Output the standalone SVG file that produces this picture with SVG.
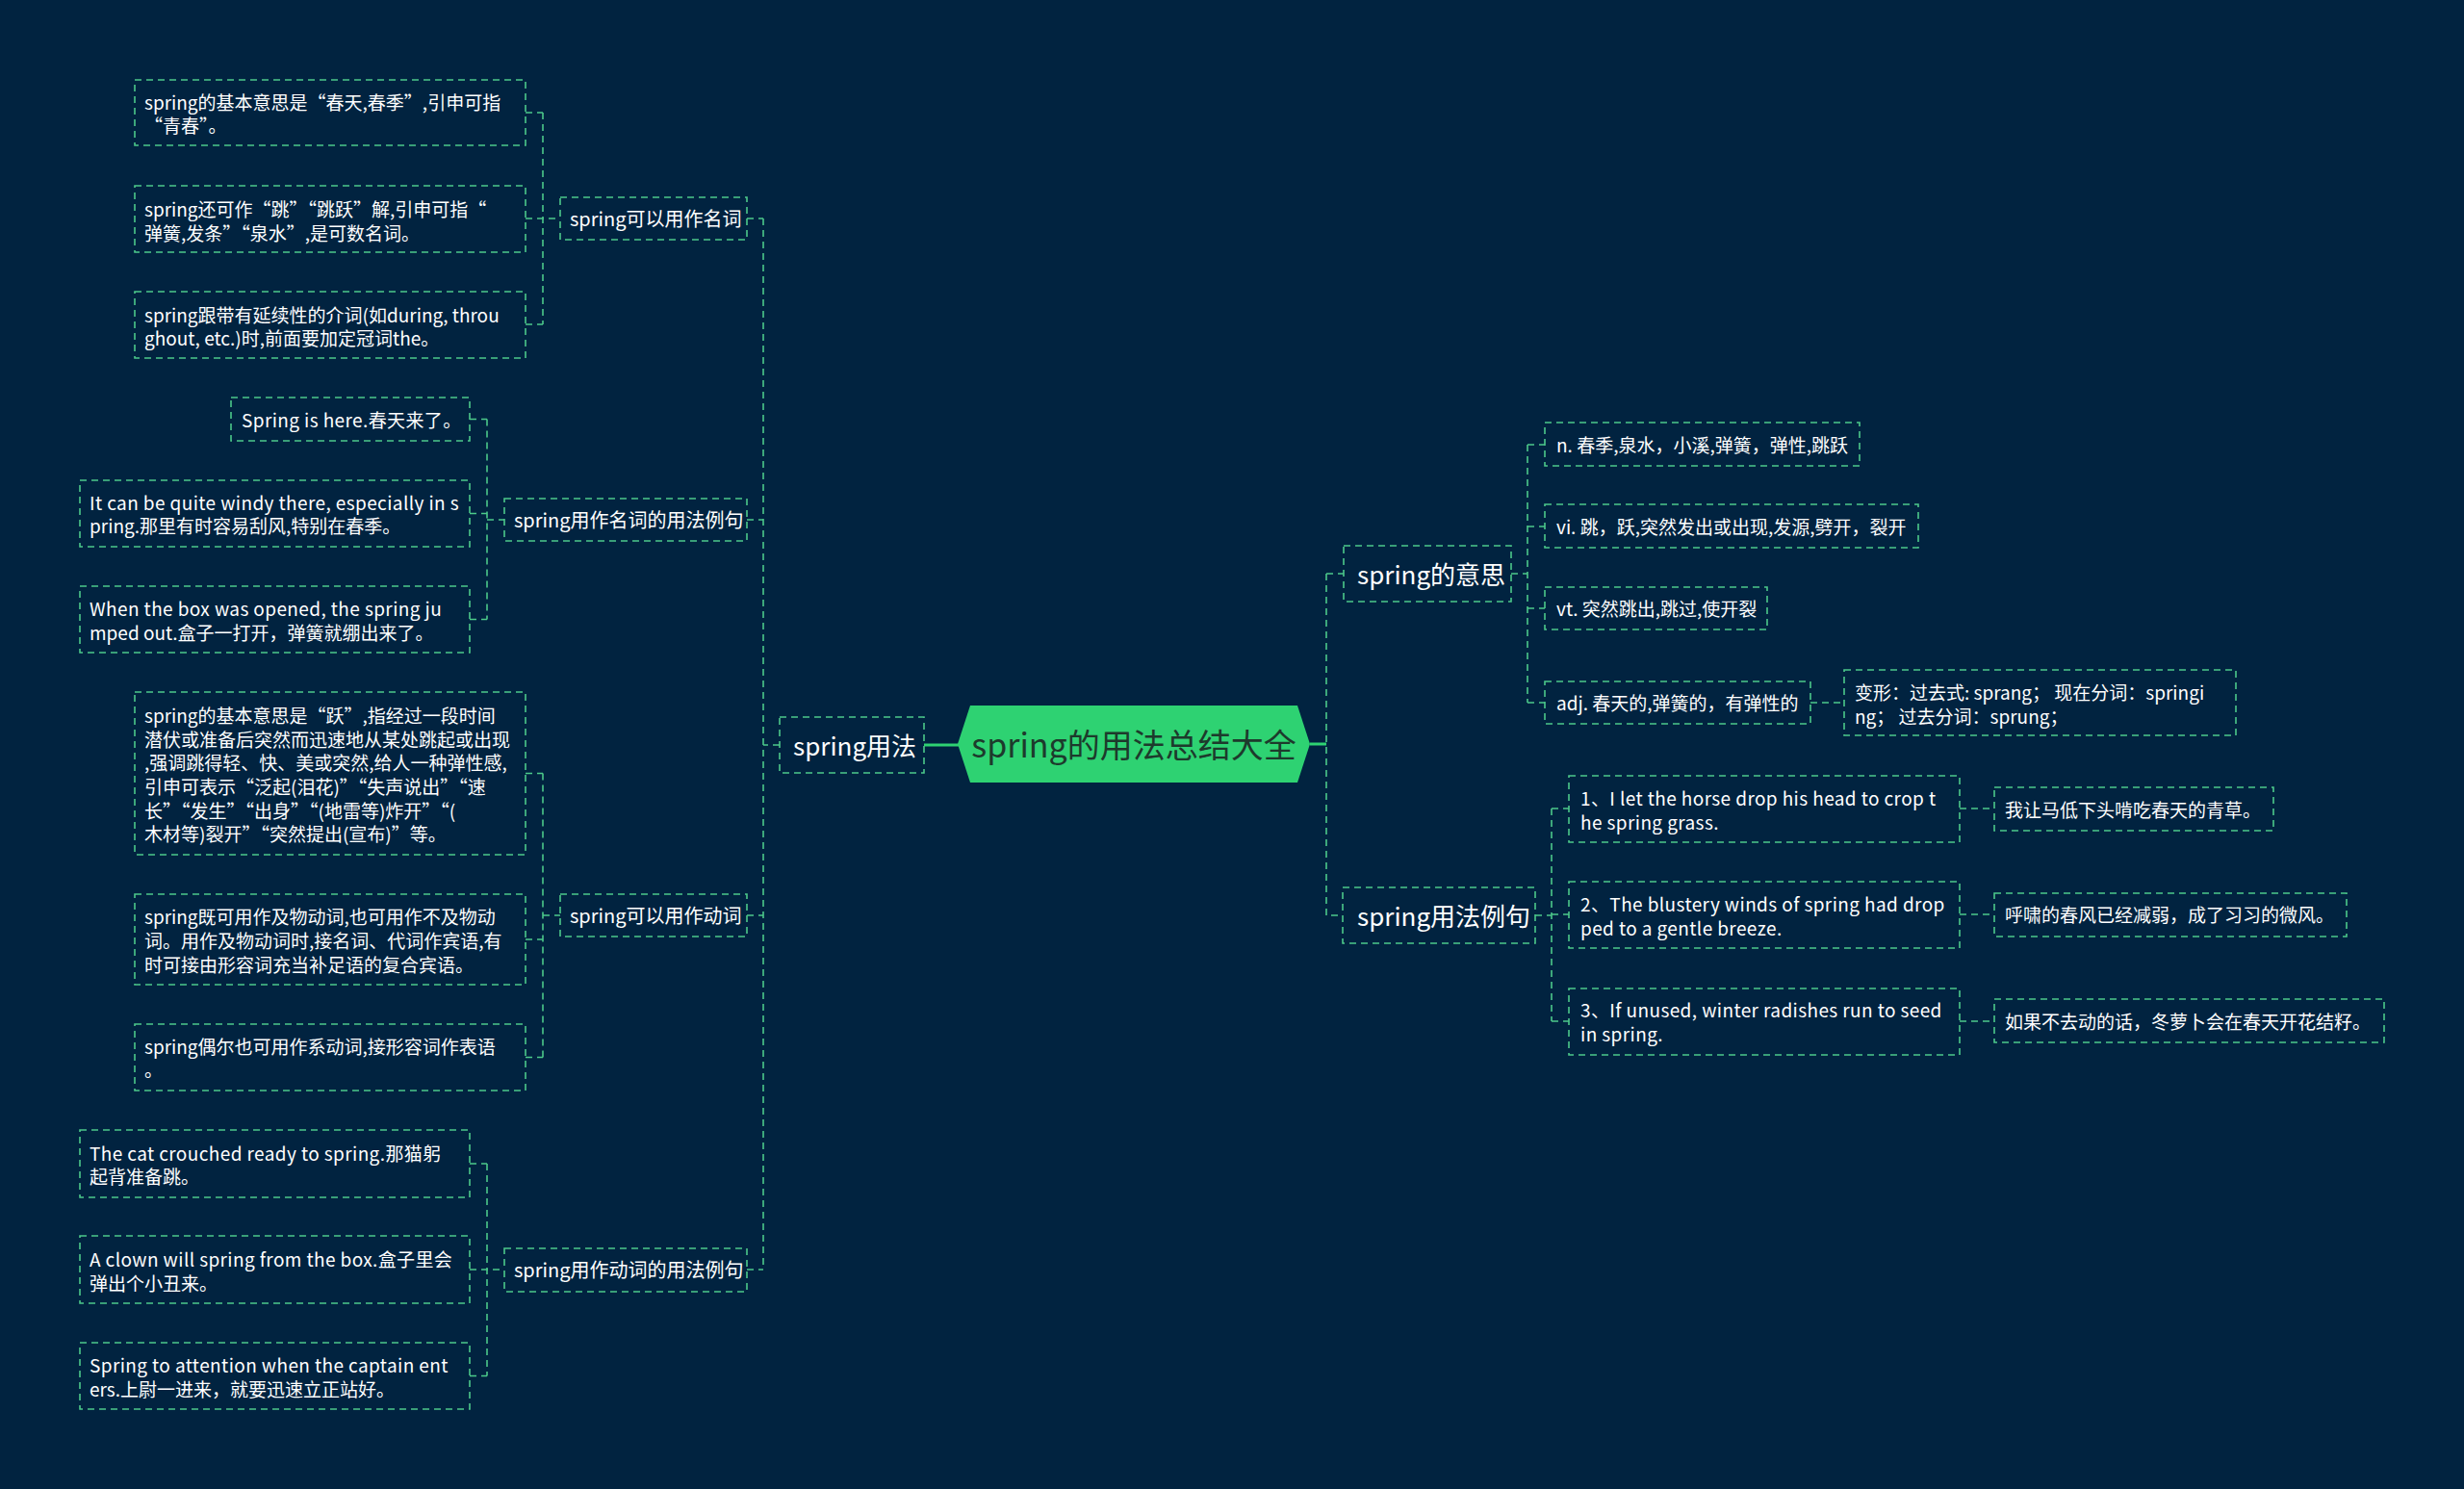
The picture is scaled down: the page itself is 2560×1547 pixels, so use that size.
<svg xmlns="http://www.w3.org/2000/svg" width="2560" height="1547" viewBox="0 0 2560 1547">
<style>
.bg{fill:#012340}
.box{fill:#012340;stroke:#4cc98a;stroke-width:1.6;stroke-dasharray:7 5}
.conn{fill:none;stroke:#4cc98a;stroke-width:1.6;stroke-dasharray:7 5}
.solid{fill:none;stroke:#2ed272;stroke-width:3}
text{font-family:"Noto Sans CJK SC","Noto Sans",sans-serif;fill:#ffffff;dominant-baseline:central}
.t{font-size:19px}
.en{letter-spacing:0.4px}
.t2{font-size:20px}
.t1{font-size:26px}
.root{font-size:34px;fill:#1d3a2c;text-anchor:middle}
</style>
<rect class="bg" x="0" y="0" width="2560" height="1547"/>

<g id="connectors">
  <path class="solid" d="M960 774H996M1361 773H1378"/>
  <path class="conn" d="M793 227V1319M810 774H793M776 227H793M776 540H793M776 951H793M776 1319H793"/>
  <path class="conn" d="M564 117V337M546 117H564M546 227H582M546 337H564"/>
  <path class="conn" d="M506 435.5V643.5M488 435.5H506M488 533.5H506M506 540H524M488 643.5H506"/>
  <path class="conn" d="M564 803.5V1098.5M546 803.5H564M546 976H564M564 951H582M546 1098.5H564"/>
  <path class="conn" d="M506 1209V1429.5M488 1209H506M488 1319H524M488 1429.5H506"/>
  <path class="conn" d="M1378 596V951H1395M1378 596H1396"/>
  <path class="conn" d="M1587 462V730M1570 596H1587M1587 462H1605M1587 547H1605M1587 632H1605M1587 730H1605M1881 730H1916"/>
  <path class="conn" d="M1612 840V1061M1595 951H1612M1612 840H1630M1612 950H1630M1612 1061H1630M2036 840H2072M2036 950H2072M2036 1061H2072"/>
</g>

<g id="root">
  <polygon points="995,773 1008,733 1348,733 1361,773 1348,813 1008,813" fill="#2ed272"/>
  <text class="root" x="1178" y="772">spring的用法总结大全</text>
</g>

<g id="n-usage"><rect class="box" x="810" y="745" width="150" height="58"/><text class="t1" x="824" y="773">spring用法</text></g>
<g id="n-meaning"><rect class="box" x="1396" y="567" width="174" height="58"/><text class="t1" x="1410" y="595">spring的意思</text></g>
<g id="n-examples"><rect class="box" x="1395" y="922" width="200" height="58"/><text class="t1" x="1410" y="950">spring用法例句</text></g>

<g id="n1"><rect class="box" x="582" y="205" width="194" height="44"/><text class="t2" x="592" y="226">spring可以用作名词</text></g>
<g id="n2"><rect class="box" x="524" y="518" width="252" height="44"/><text class="t2" x="534" y="539">spring用作名词的用法例句</text></g>
<g id="n3"><rect class="box" x="582" y="929" width="194" height="44"/><text class="t2" x="592" y="950">spring可以用作动词</text></g>
<g id="n4"><rect class="box" x="524" y="1297" width="252" height="45"/><text class="t2" x="534" y="1318">spring用作动词的用法例句</text></g>

<g id="a1"><rect class="box" x="140" y="83" width="406" height="68"/><text class="t" x="150" y="105">spring的基本意思是“春天,春季”,引申可指</text><text class="t" x="150" y="129">“青春”。</text></g>
<g id="a2"><rect class="box" x="140" y="193" width="406" height="69"/><text class="t" x="150" y="216">spring还可作“跳”“跳跃”解,引申可指“</text><text class="t" x="150" y="241">弹簧,发条”“泉水”,是可数名词。</text></g>
<g id="a3"><rect class="box" x="140" y="303" width="406" height="69"/><text class="t" x="150" y="326">spring跟带有延续性的介词(如during, throu</text><text class="t" x="150" y="350">ghout, etc.)时,前面要加定冠词the。</text></g>

<g id="b1"><rect class="box" x="240" y="413" width="248" height="45"/><text class="t en" x="251" y="435">Spring is here.春天来了。</text></g>
<g id="b2"><rect class="box" x="83" y="499" width="405" height="69"/><text class="t en" x="93" y="521">It can be quite windy there, especially in s</text><text class="t" x="93" y="545">pring.那里有时容易刮风,特别在春季。</text></g>
<g id="b3"><rect class="box" x="83" y="609" width="405" height="69"/><text class="t en" x="93" y="631">When the box was opened, the spring ju</text><text class="t" x="93" y="656">mped out.盒子一打开，弹簧就绷出来了。</text></g>

<g id="c1"><rect class="box" x="140" y="719" width="406" height="169"/>
<text class="t" x="150" y="742">spring的基本意思是“跃”,指经过一段时间</text>
<text class="t" x="150" y="767">潜伏或准备后突然而迅速地从某处跳起或出现</text>
<text class="t" x="150" y="791">,强调跳得轻、快、美或突然,给人一种弹性感,</text>
<text class="t" x="150" y="816">引申可表示“泛起(泪花)”“失声说出”“速</text>
<text class="t" x="150" y="841">长”“发生”“出身”“(地雷等)炸开”“(</text>
<text class="t" x="150" y="865">木材等)裂开”“突然提出(宣布)”等。</text></g>
<g id="c2"><rect class="box" x="140" y="929" width="406" height="94"/>
<text class="t" x="150" y="951">spring既可用作及物动词,也可用作不及物动</text>
<text class="t" x="150" y="976">词。用作及物动词时,接名词、代词作宾语,有</text>
<text class="t" x="150" y="1001">时可接由形容词充当补足语的复合宾语。</text></g>
<g id="c3"><rect class="box" x="140" y="1064" width="406" height="69"/>
<text class="t" x="150" y="1086">spring偶尔也可用作系动词,接形容词作表语</text>
<text class="t" x="150" y="1110">。</text></g>

<g id="d1"><rect class="box" x="83" y="1174" width="405" height="70"/><text class="t en" x="93" y="1197">The cat crouched ready to spring.那猫躬</text><text class="t" x="93" y="1221">起背准备跳。</text></g>
<g id="d2"><rect class="box" x="83" y="1284" width="405" height="70"/><text class="t en" x="93" y="1307">A clown will spring from the box.盒子里会</text><text class="t" x="93" y="1332">弹出个小丑来。</text></g>
<g id="d3"><rect class="box" x="83" y="1395" width="405" height="69"/><text class="t en" x="93" y="1417">Spring to attention when the captain ent</text><text class="t" x="93" y="1442">ers.上尉一进来，就要迅速立正站好。</text></g>

<g id="r1"><rect class="box" x="1605" y="439" width="327" height="45"/><text class="t" x="1617" y="461">n. 春季,泉水，小溪,弹簧，弹性,跳跃</text></g>
<g id="r2"><rect class="box" x="1605" y="524" width="388" height="45"/><text class="t" x="1617" y="546">vi. 跳，跃,突然发出或出现,发源,劈开，裂开</text></g>
<g id="r3"><rect class="box" x="1605" y="610" width="231" height="44"/><text class="t" x="1617" y="631">vt. 突然跳出,跳过,使开裂</text></g>
<g id="r4"><rect class="box" x="1605" y="708" width="276" height="44"/><text class="t" x="1617" y="729">adj. 春天的,弹簧的，有弹性的</text></g>
<g id="r5"><rect class="box" x="1916" y="696" width="407" height="68"/><text class="t" x="1927" y="718">变形：过去式: sprang； 现在分词：springi</text><text class="t" x="1927" y="743">ng； 过去分词：sprung；</text></g>

<g id="e1"><rect class="box" x="1630" y="806" width="406" height="69"/><text class="t en" x="1642" y="828">1、I let the horse drop his head to crop t</text><text class="t en" x="1642" y="853">he spring grass.</text></g>
<g id="e2"><rect class="box" x="1630" y="916" width="406" height="69"/><text class="t en" x="1642" y="938">2、The blustery winds of spring had drop</text><text class="t en" x="1642" y="963">ped to a gentle breeze.</text></g>
<g id="e3"><rect class="box" x="1630" y="1027" width="406" height="69"/><text class="t en" x="1642" y="1048">3、If unused, winter radishes run to seed</text><text class="t en" x="1642" y="1073">in spring.</text></g>

<g id="f1"><rect class="box" x="2072" y="818" width="290" height="45"/><text class="t" x="2083" y="840">我让马低下头啃吃春天的青草。</text></g>
<g id="f2"><rect class="box" x="2072" y="928" width="366" height="45"/><text class="t" x="2083" y="949">呼啸的春风已经减弱，成了习习的微风。</text></g>
<g id="f3"><rect class="box" x="2072" y="1038" width="405" height="45"/><text class="t" x="2083" y="1060">如果不去动的话，冬萝卜会在春天开花结籽。</text></g>
</svg>
